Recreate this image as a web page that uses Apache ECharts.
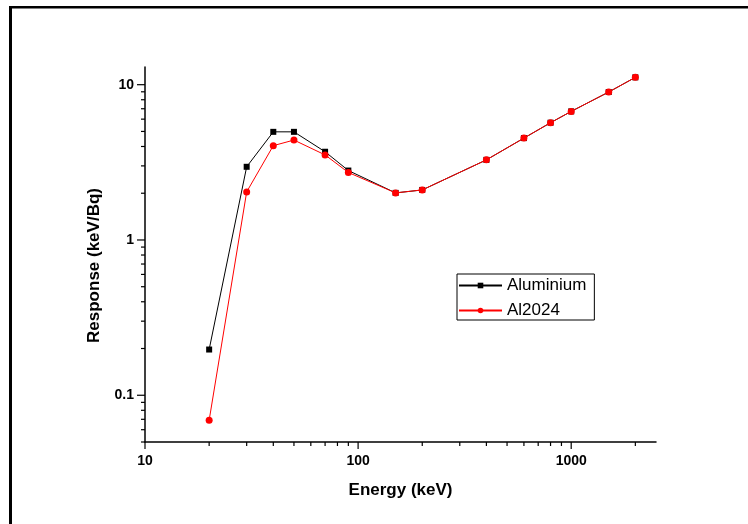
<!DOCTYPE html>
<html>
<head>
<meta charset="utf-8">
<script src="https://cdn.jsdelivr.net/npm/echarts@6/dist/echarts.min.js"></script>
<style>
  html, body { margin: 0; padding: 0; background: #fff; }
  #chart { width: 748px; height: 524px; }
</style>
</head>
<body>
<div id="chart"></div>
<script>
// Photon energies (keV)
const energies = [20, 30, 40, 50, 70, 90, 150, 200, 400, 600, 800, 1000, 1500, 2000];
// Detector response (keV/Bq)
const aluminium = [0.197, 2.96, 4.97, 4.97, 3.70, 2.80, 2.01, 2.10, 3.28, 4.53, 5.69, 6.73, 8.97, 11.15];
const al2024   = [0.069, 2.04, 4.05, 4.40, 3.53, 2.72, 2.01, 2.10, 3.28, 4.53, 5.69, 6.73, 8.97, 11.15];
const seriesNames = ['Aluminium', 'Al2024'];

// Axis ranges
const xRange = [10, 2500];
const yRange = [0.05, 13];

// Tick positions on the log axes: decades (major) and 2..9 multiples (minor)
function logTicks(lo, hi) {
  const out = [];
  for (let e = Math.floor(Math.log10(lo)); e <= Math.ceil(Math.log10(hi)); e++) {
    for (let m = 1; m <= 9; m++) {
      const v = +(m * Math.pow(10, e)).toPrecision(6);
      if (v >= lo * 0.9999 && v <= hi * 1.0001) out.push([v, m === 1 ? 1 : 0]);
    }
  }
  return out;
}
const xTicks = logTicks(xRange[0], xRange[1]);
const yTicks = logTicks(yRange[0], yRange[1]);

function decadeLabel(v) {
  const e = Math.log10(v);
  if (Math.abs(e - Math.round(e)) > 1e-6) return '';
  const r = Math.round(e);
  return r >= 0 ? String(Math.pow(10, r)) : (Math.pow(10, r)).toFixed(-r);
}

const FONT = '"Liberation Sans", Arial, sans-serif';
const chart = echarts.init(document.getElementById('chart'), null, { renderer: 'canvas' });

chart.setOption({
  animation: false,
  backgroundColor: '#ffffff',
  grid: { left: 145, right: 92, top: 67, bottom: 82 },
  legend: {
    data: seriesNames,
    orient: 'vertical',
    left: 457,
    top: 274,
    padding: [3, 8, 1, 1],
    itemGap: 8,
    itemWidth: 43,
    itemHeight: 7,
    borderColor: '#000',
    borderWidth: 1,
    textStyle: { fontFamily: FONT, fontSize: 17, color: '#000', padding: [0, 0, 0, 0] }
  },
  xAxis: {
    type: 'log',
    logBase: 10,
    min: xRange[0],
    max: xRange[1],
    name: 'Energy (keV)',
    nameLocation: 'middle',
    nameGap: 40,
    nameTextStyle: { fontFamily: FONT, fontSize: 17, fontWeight: 'bold', color: '#000' },
    axisLine: { show: true, lineStyle: { color: '#000', width: 1.5 } },
    axisTick: { show: false },
    splitLine: { show: false },
    axisLabel: {
      margin: 12,
      fontFamily: FONT, fontSize: 14, fontWeight: 'bold', color: '#000',
      showMinLabel: true, showMaxLabel: true,
      formatter: decadeLabel
    }
  },
  yAxis: {
    type: 'log',
    logBase: 10,
    min: yRange[0],
    max: yRange[1],
    name: 'Response (keV/Bq)',
    nameLocation: 'middle',
    nameGap: 42,
    nameTextStyle: { fontFamily: FONT, fontSize: 17, fontWeight: 'bold', color: '#000', padding: [0, 22, 0, 0] },
    axisLine: { show: true, lineStyle: { color: '#000', width: 1.5 } },
    axisTick: { show: false },
    splitLine: { show: false },
    axisLabel: {
      margin: 11,
      fontFamily: FONT, fontSize: 14, fontWeight: 'bold', color: '#000',
      formatter: decadeLabel
    }
  },
  graphic: [
    { type: 'rect', shape: { x: 9, y: 6, width: 3, height: 518 }, style: { fill: '#000' }, silent: true },
    { type: 'rect', shape: { x: 9, y: 6, width: 739, height: 2.5 }, style: { fill: '#000' }, silent: true }
  ],
  series: [
    {
      name: seriesNames[0],
      type: 'line',
      data: energies.map((e, i) => [e, aluminium[i]]),
      symbol: 'rect',
      symbolSize: 6,
      itemStyle: { color: '#000' },
      lineStyle: { color: '#000', width: 1 },
      z: 3
    },
    {
      name: seriesNames[1],
      type: 'line',
      data: energies.map((e, i) => [e, al2024[i]]),
      symbol: 'circle',
      symbolSize: 7,
      itemStyle: { color: '#ff0000' },
      lineStyle: { color: '#ff0000', width: 1 },
      z: 4
    },
    {
      // x-axis ticks, pointing outward (down)
      type: 'custom',
      silent: true,
      clip: false,
      data: xTicks,
      renderItem: function (params, api) {
        const p = api.coord([api.value(0), yRange[0]]);
        const len = api.value(1) ? 7 : 4;
        return {
          type: 'line',
          shape: { x1: p[0], y1: p[1], x2: p[0], y2: p[1] + len },
          style: { stroke: '#000', lineWidth: 1.2 }
        };
      },
      z: 5
    },
    {
      // y-axis ticks, pointing outward (left)
      type: 'custom',
      silent: true,
      clip: false,
      data: yTicks.map(t => [xRange[0], t[0], t[1]]),
      renderItem: function (params, api) {
        const p = api.coord([xRange[0], api.value(1)]);
        const len = api.value(2) ? 8 : 4;
        return {
          type: 'line',
          shape: { x1: p[0], y1: p[1], x2: p[0] - len, y2: p[1] },
          style: { stroke: '#000', lineWidth: 1.2 }
        };
      },
      z: 5
    }
  ]
});
</script>
</body>
</html>
